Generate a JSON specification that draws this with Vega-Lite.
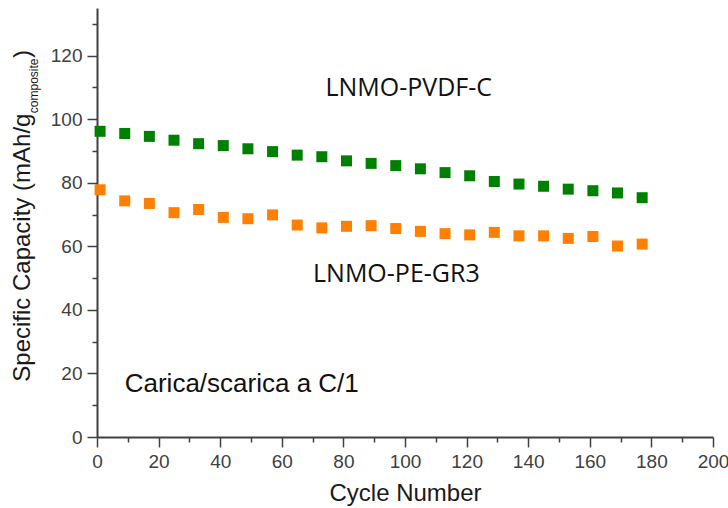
{
  "$schema": "https://vega.github.io/schema/vega-lite/v6.json",
  "width": 616,
  "height": 429,
  "autosize": {"type": "none"},
  "padding": {"left": 97, "top": 8, "right": 15, "bottom": 71},
  "background": "white",
  "config": {
    "view": {"stroke": null},
    "axis": {
      "grid": false,
      "labelFont": "Liberation Sans",
      "labelFontSize": 19,
      "labelColor": "#404040",
      "domainColor": "#404040",
      "domainWidth": 2,
      "tickColor": "#404040",
      "tickWidth": 1.5,
      "labelPadding": 5,
      "labelFlush": false,
      "labelOverlap": false,
      "labelBound": false,
      "titleFont": "Liberation Sans",
      "titleFontSize": 24,
      "titleFontWeight": "normal",
      "titleColor": "#1a1a1a"
    }
  },
  "datasets": {
    "points": [
      {"cycle": 1, "capacity": 96.2, "sample": "LNMO-PVDF-C"},
      {"cycle": 9, "capacity": 95.5, "sample": "LNMO-PVDF-C"},
      {"cycle": 17, "capacity": 94.6, "sample": "LNMO-PVDF-C"},
      {"cycle": 25, "capacity": 93.4, "sample": "LNMO-PVDF-C"},
      {"cycle": 33, "capacity": 92.3, "sample": "LNMO-PVDF-C"},
      {"cycle": 41, "capacity": 91.7, "sample": "LNMO-PVDF-C"},
      {"cycle": 49, "capacity": 90.7, "sample": "LNMO-PVDF-C"},
      {"cycle": 57, "capacity": 89.8, "sample": "LNMO-PVDF-C"},
      {"cycle": 65, "capacity": 88.7, "sample": "LNMO-PVDF-C"},
      {"cycle": 73, "capacity": 88.2, "sample": "LNMO-PVDF-C"},
      {"cycle": 81, "capacity": 86.9, "sample": "LNMO-PVDF-C"},
      {"cycle": 89, "capacity": 86.1, "sample": "LNMO-PVDF-C"},
      {"cycle": 97, "capacity": 85.4, "sample": "LNMO-PVDF-C"},
      {"cycle": 105, "capacity": 84.4, "sample": "LNMO-PVDF-C"},
      {"cycle": 113, "capacity": 83.2, "sample": "LNMO-PVDF-C"},
      {"cycle": 121, "capacity": 82.2, "sample": "LNMO-PVDF-C"},
      {"cycle": 129, "capacity": 80.4, "sample": "LNMO-PVDF-C"},
      {"cycle": 137, "capacity": 79.6, "sample": "LNMO-PVDF-C"},
      {"cycle": 145, "capacity": 78.9, "sample": "LNMO-PVDF-C"},
      {"cycle": 153, "capacity": 78.0, "sample": "LNMO-PVDF-C"},
      {"cycle": 161, "capacity": 77.5, "sample": "LNMO-PVDF-C"},
      {"cycle": 169, "capacity": 76.8, "sample": "LNMO-PVDF-C"},
      {"cycle": 177, "capacity": 75.3, "sample": "LNMO-PVDF-C"},
      {"cycle": 1, "capacity": 77.8, "sample": "LNMO-PE-GR3"},
      {"cycle": 9, "capacity": 74.3, "sample": "LNMO-PE-GR3"},
      {"cycle": 17, "capacity": 73.5, "sample": "LNMO-PE-GR3"},
      {"cycle": 25, "capacity": 70.6, "sample": "LNMO-PE-GR3"},
      {"cycle": 33, "capacity": 71.6, "sample": "LNMO-PE-GR3"},
      {"cycle": 41, "capacity": 69.1, "sample": "LNMO-PE-GR3"},
      {"cycle": 49, "capacity": 68.7, "sample": "LNMO-PE-GR3"},
      {"cycle": 57, "capacity": 69.9, "sample": "LNMO-PE-GR3"},
      {"cycle": 65, "capacity": 66.7, "sample": "LNMO-PE-GR3"},
      {"cycle": 73, "capacity": 65.8, "sample": "LNMO-PE-GR3"},
      {"cycle": 81, "capacity": 66.3, "sample": "LNMO-PE-GR3"},
      {"cycle": 89, "capacity": 66.5, "sample": "LNMO-PE-GR3"},
      {"cycle": 97, "capacity": 65.6, "sample": "LNMO-PE-GR3"},
      {"cycle": 105, "capacity": 64.7, "sample": "LNMO-PE-GR3"},
      {"cycle": 113, "capacity": 64.0, "sample": "LNMO-PE-GR3"},
      {"cycle": 121, "capacity": 63.6, "sample": "LNMO-PE-GR3"},
      {"cycle": 129, "capacity": 64.4, "sample": "LNMO-PE-GR3"},
      {"cycle": 137, "capacity": 63.3, "sample": "LNMO-PE-GR3"},
      {"cycle": 145, "capacity": 63.3, "sample": "LNMO-PE-GR3"},
      {"cycle": 153, "capacity": 62.5, "sample": "LNMO-PE-GR3"},
      {"cycle": 161, "capacity": 63.1, "sample": "LNMO-PE-GR3"},
      {"cycle": 169, "capacity": 60.1, "sample": "LNMO-PE-GR3"},
      {"cycle": 177, "capacity": 60.7, "sample": "LNMO-PE-GR3"}
    ]
  },
  "encoding": {
    "x": {
      "field": "cycle",
      "type": "quantitative",
      "scale": {"domain": [0, 200], "nice": false, "zero": false},
      "axis": {
        "values": [0, 10, 20, 30, 40, 50, 60, 70, 80, 90, 100, 110, 120, 130, 140, 150, 160, 170, 180, 190, 200],
        "labelExpr": "datum.value % 20 === 0 ? datum.label : ''",
        "tickSize": {"condition": {"test": "datum.value % 20 === 0", "value": 10}, "value": 5},
        "title": "Cycle Number",
        "titlePadding": 10
      }
    },
    "y": {
      "field": "capacity",
      "type": "quantitative",
      "scale": {"domain": [0, 135], "nice": false, "zero": false},
      "axis": {
        "values": [0, 10, 20, 30, 40, 50, 60, 70, 80, 90, 100, 110, 120, 130],
        "labelExpr": "datum.value % 20 === 0 ? datum.label : ''",
        "tickSize": {"condition": {"test": "datum.value % 20 === 0", "value": 10}, "value": 5},
        "title": null
      }
    }
  },
  "layer": [
    {
      "data": {"name": "points"},
      "mark": {"type": "square", "size": 121, "opacity": 1, "filled": true},
      "encoding": {
        "color": {
          "field": "sample",
          "type": "nominal",
          "scale": {"domain": ["LNMO-PVDF-C", "LNMO-PE-GR3"], "range": ["#008000", "#ff8000"]},
          "legend": null
        }
      }
    },
    {
      "data": {"values": [
        {"label": "LNMO-PVDF-C", "cycle": 101.2, "capacity": 107.3},
        {"label": "LNMO-PE-GR3", "cycle": 97.2, "capacity": 48.8}
      ]},
      "mark": {"type": "text", "align": "center", "baseline": "alphabetic", "font": "Open Sans", "fontSize": 25, "color": "#111111"},
      "encoding": {"text": {"field": "label"}}
    },
    {
      "data": {"values": [{"label": "Carica/scarica a C/1", "cycle": 9.0, "capacity": 14.2}]},
      "mark": {"type": "text", "align": "left", "baseline": "alphabetic", "font": "Liberation Sans", "fontSize": 26, "color": "#111111"},
      "encoding": {"text": {"field": "label"}}
    },
    {
      "data": {"values": [
        {"label": "Specific Capacity (mAh/g", "cycle": -21.6, "capacity": 17.4},
        {"label": ")", "cycle": -21.6, "capacity": 119.3}
      ]},
      "mark": {"type": "text", "angle": 270, "align": "left", "baseline": "alphabetic", "font": "Liberation Sans", "fontSize": 24, "color": "#1a1a1a"},
      "encoding": {"text": {"field": "label"}}
    },
    {
      "data": {"values": [{"label": "composite", "cycle": -19.0, "capacity": 101.9}]},
      "mark": {"type": "text", "angle": 270, "align": "left", "baseline": "alphabetic", "font": "Liberation Sans", "fontSize": 12, "color": "#1a1a1a"},
      "encoding": {"text": {"field": "label"}}
    }
  ]
}
